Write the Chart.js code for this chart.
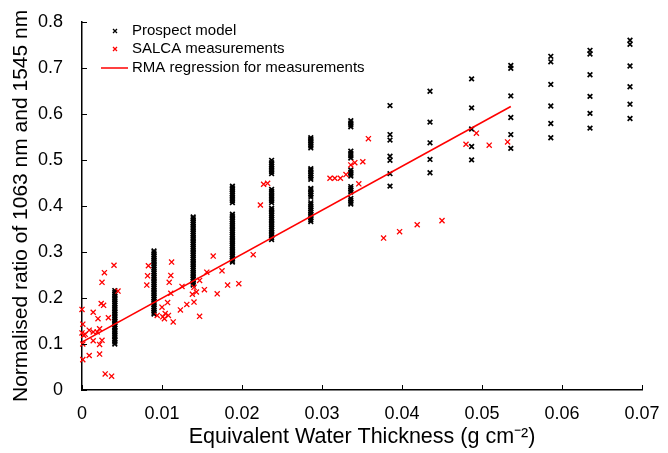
<!DOCTYPE html>
<html>
<head>
<meta charset="utf-8">
<script src="https://cdn.jsdelivr.net/npm/chart.js@4.4.0/dist/chart.umd.min.js"></script>
<style>
  html, body { margin: 0; padding: 0; background: #fff; }
</style>
</head>
<body>
<canvas id="chart" width="668" height="453"></canvas>
<script>
// axis ticks
const xTicks = [0, 0.01, 0.02, 0.03, 0.04, 0.05, 0.06, 0.07];
const xTickLabels = ["0", "0.01", "0.02", "0.03", "0.04", "0.05", "0.06", "0.07"];
const yTicks = [0, 0.1, 0.2, 0.3, 0.4, 0.5, 0.6, 0.7, 0.8];
const yTickLabels = ["0", "0.1", "0.2", "0.3", "0.4", "0.5", "0.6", "0.7", "0.8"];

// Prospect model: one x per column, list of ratios per column
const prospectX = [0.0041, 0.0090, 0.0139, 0.0188, 0.0237, 0.0286, 0.0336, 0.0385, 0.0435, 0.0487, 0.0536, 0.0586, 0.0635, 0.0685];
const prospectY = [
  [0.100, 0.104, 0.108, 0.111, 0.115, 0.119, 0.123, 0.127, 0.130, 0.134, 0.138, 0.142, 0.146, 0.150, 0.153, 0.157, 0.161, 0.165, 0.169, 0.172, 0.176, 0.180, 0.184, 0.188, 0.192, 0.196, 0.200, 0.204, 0.208, 0.212, 0.216],
  [0.165, 0.169, 0.173, 0.177, 0.181, 0.185, 0.189, 0.193, 0.197, 0.201, 0.205, 0.209, 0.213, 0.217, 0.221, 0.225, 0.229, 0.233, 0.237, 0.241, 0.245, 0.249, 0.253, 0.257, 0.262, 0.266, 0.270, 0.274, 0.278, 0.282, 0.286, 0.290, 0.294, 0.298, 0.302],
  [0.228, 0.232, 0.236, 0.240, 0.244, 0.248, 0.252, 0.256, 0.260, 0.264, 0.268, 0.272, 0.276, 0.280, 0.284, 0.288, 0.292, 0.296, 0.300, 0.304, 0.308, 0.312, 0.316, 0.320, 0.324, 0.328, 0.332, 0.336, 0.340, 0.344, 0.348, 0.352, 0.356, 0.360, 0.364, 0.368, 0.372, 0.376],
  [0.278, 0.282, 0.286, 0.290, 0.294, 0.298, 0.302, 0.306, 0.310, 0.314, 0.318, 0.322, 0.326, 0.330, 0.334, 0.338, 0.342, 0.346, 0.350, 0.354, 0.358, 0.362, 0.366, 0.370, 0.374, 0.378, 0.382, 0.407, 0.411, 0.415, 0.419, 0.423, 0.427, 0.431, 0.435, 0.439, 0.443],
  [0.327, 0.331, 0.335, 0.339, 0.343, 0.347, 0.351, 0.355, 0.359, 0.363, 0.367, 0.371, 0.375, 0.379, 0.383, 0.387, 0.391, 0.395, 0.407, 0.411, 0.415, 0.419, 0.423, 0.428, 0.432, 0.436, 0.470, 0.474, 0.478, 0.482, 0.486, 0.490, 0.494, 0.499],
  [0.366, 0.370, 0.374, 0.378, 0.382, 0.386, 0.390, 0.394, 0.398, 0.403, 0.407, 0.419, 0.423, 0.427, 0.431, 0.435, 0.438, 0.458, 0.462, 0.466, 0.470, 0.474, 0.478, 0.481, 0.526, 0.530, 0.534, 0.538, 0.542, 0.545, 0.548],
  [0.404, 0.408, 0.412, 0.416, 0.430, 0.434, 0.438, 0.442, 0.465, 0.469, 0.473, 0.478, 0.504, 0.509, 0.514, 0.519, 0.572, 0.576, 0.580, 0.585],
  [0.443, 0.470, 0.499, 0.508, 0.543, 0.555, 0.618],
  [0.472, 0.501, 0.537, 0.582, 0.649],
  [0.500, 0.529, 0.567, 0.613, 0.676],
  [0.525, 0.555, 0.592, 0.639, 0.699, 0.705],
  [0.548, 0.579, 0.617, 0.664, 0.713, 0.725],
  [0.569, 0.601, 0.638, 0.685, 0.730, 0.738],
  [0.590, 0.621, 0.659, 0.704, 0.751, 0.760]
];

// SALCA measurements
const salcaX = [
  0.0000, 0.0001, 0.0000, 0.0002, 0.0004, 0.0001, 0.0001, 0.0009, 0.0009, 0.0014, 0.0019, 0.0022, 0.0014, 0.0014,
  0.0020, 0.0022, 0.0022, 0.0025, 0.0024, 0.0027, 0.0025, 0.0028, 0.0029, 0.0037, 0.0033, 0.0040, 0.0045,
  0.0083, 0.0082, 0.0081, 0.0094, 0.0100, 0.0101, 0.0103, 0.0104, 0.0108, 0.0107, 0.0114, 0.0111, 0.0112, 0.0111,
  0.0109, 0.0123, 0.0125, 0.0131, 0.0140, 0.0138, 0.0140, 0.0143, 0.0147, 0.0153, 0.0147, 0.0156, 0.0164, 0.0169,
  0.0175, 0.0182, 0.0196, 0.0214, 0.0223, 0.0227, 0.0232,
  0.0310, 0.0316, 0.0323, 0.0330, 0.0336, 0.0341, 0.0351, 0.0346, 0.0358, 0.0377, 0.0397, 0.0419, 0.0450,
  0.0480, 0.0493, 0.0509, 0.0532
];
const salcaY = [
  0.175, 0.143, 0.124, 0.119, 0.121, 0.100, 0.066, 0.075, 0.130, 0.126, 0.126, 0.133, 0.107, 0.169,
  0.155, 0.099, 0.078, 0.108, 0.188, 0.184, 0.234, 0.255, 0.035, 0.030, 0.157, 0.271, 0.215,
  0.270, 0.248, 0.228, 0.162, 0.180, 0.159, 0.155, 0.166, 0.162, 0.190, 0.148, 0.210, 0.278, 0.249,
  0.234, 0.174, 0.225, 0.186, 0.191, 0.208, 0.223, 0.213, 0.238, 0.218, 0.160, 0.256, 0.291, 0.209,
  0.259, 0.228, 0.231, 0.294, 0.402, 0.447, 0.449,
  0.460, 0.460, 0.460, 0.468, 0.489, 0.494, 0.496, 0.448, 0.546, 0.330, 0.344, 0.359, 0.368,
  0.534, 0.558, 0.532, 0.539
];

// RMA regression line end points
const rmaX = [0, 0.0536];
const rmaY = [0.104, 0.616];

const FONT = "'Liberation Sans', Arial, Helvetica, sans-serif";

let prospectPoints = [];
prospectX.forEach((x, i) => {
  prospectY[i].forEach(y => prospectPoints.push({ x: x, y: y }));
});
const salcaPoints = salcaX.map((x, i) => ({ x: x, y: salcaY[i] }));
const rmaPoints = rmaX.map((x, i) => ({ x: x, y: rmaY[i] }));

// inward tick marks on both axes
const innerTicks = {
  id: "innerTicks",
  afterDatasetsDraw(chart) {
    const ctx = chart.ctx;
    const area = chart.chartArea;
    const xs = chart.scales.x, ys = chart.scales.y;
    ctx.save();
    ctx.strokeStyle = "#000";
    ctx.lineWidth = 1;
    xTicks.forEach(v => {
      const px = Math.round(xs.getPixelForValue(v)) + 0.5;
      ctx.beginPath();
      ctx.moveTo(px, area.bottom);
      ctx.lineTo(px, area.bottom - 5);
      ctx.stroke();
    });
    yTicks.forEach(v => {
      const py = Math.round(ys.getPixelForValue(v)) + 0.5;
      ctx.beginPath();
      ctx.moveTo(area.left, py);
      ctx.lineTo(area.left + 5, py);
      ctx.stroke();
    });
    ctx.restore();
  }
};

// legend in the upper left corner of the plot
const cornerLegend = {
  id: "cornerLegend",
  afterDraw(chart) {
    const ctx = chart.ctx;
    const sets = chart.data.datasets;
    const rows = [31, 49, 68];
    ctx.save();
    ctx.font = "15px " + FONT;
    ctx.textBaseline = "middle";
    ctx.fillStyle = "#000";
    sets.forEach((ds, i) => {
      const y = rows[i];
      ctx.strokeStyle = ds.borderColor;
      if (ds.type === "line") {
        ctx.lineWidth = 1.5;
        ctx.beginPath();
        ctx.moveTo(101, y);
        ctx.lineTo(128, y);
        ctx.stroke();
      } else {
        ctx.lineWidth = 1.3;
        ctx.beginPath();
        ctx.moveTo(113, y - 2); ctx.lineTo(117, y + 2);
        ctx.moveTo(117, y - 2); ctx.lineTo(113, y + 2);
        ctx.stroke();
      }
      ctx.fillStyle = "#000";
      ctx.fillText(ds.label, 132, y);
    });
    ctx.restore();
  }
};

const ctx = document.getElementById("chart").getContext("2d");
const myChart = new Chart(ctx, {
  type: "scatter",
  data: {
    datasets: [
      {
        label: "Prospect model",
        data: prospectPoints,
        pointStyle: "crossRot",
        pointRadius: 3.3,
        borderColor: "#000000",
        backgroundColor: "#000000",
        pointBorderWidth: 1.7,
        clip: false,
        order: 3
      },
      {
        label: "SALCA measurements",
        data: salcaPoints,
        pointStyle: "crossRot",
        pointRadius: 3.6,
        borderColor: "#ff0000",
        backgroundColor: "#ff0000",
        pointBorderWidth: 1.3,
        clip: false,
        order: 2
      },
      {
        label: "RMA regression for measurements",
        type: "line",
        data: rmaPoints,
        borderColor: "#ff0000",
        borderWidth: 1.6,
        pointRadius: 0,
        fill: false,
        order: 1
      }
    ]
  },
  options: {
    responsive: false,
    animation: false,
    layout: { padding: { top: 20, right: 26, left: 0, bottom: 0 } },
    plugins: { legend: { display: false }, tooltip: { enabled: false } },
    scales: {
      x: {
        type: "linear",
        min: 0,
        max: 0.07,
        afterBuildTicks: s => { s.ticks = xTicks.map(v => ({ value: v })); },
        afterFit: s => { s.height = 63; },
        grid: { display: false },
        border: { display: true, color: "#000", width: 1.5 },
        ticks: {
          color: "#000",
          font: { family: FONT, size: 18 },
          padding: 5,
          maxRotation: 0,
          autoSkip: false,
          callback: (v, i) => xTickLabels[i]
        },
        title: {
          display: true,
          text: "Equivalent Water Thickness (g cm\u207B\u00B2)",
          color: "#000",
          font: { family: FONT, size: 21.5 },
          padding: { top: 0, bottom: 3 }
        }
      },
      y: {
        type: "linear",
        min: 0,
        max: 0.8,
        afterBuildTicks: s => { s.ticks = yTicks.map(v => ({ value: v })); },
        afterFit: s => { s.width = 82; },
        grid: { display: false },
        border: { display: true, color: "#000", width: 1.5 },
        ticks: {
          color: "#000",
          font: { family: FONT, size: 18 },
          padding: 11,
          autoSkip: false,
          callback: (v, i) => yTickLabels[i]
        },
        title: {
          display: true,
          text: "Normalised ratio of 1063 nm and 1545 nm",
          color: "#000",
          font: { family: FONT, size: 21 },
          padding: { top: 9, bottom: 0 }
        }
      }
    }
  },
  plugins: [innerTicks, cornerLegend]
});
</script>
</body>
</html>
